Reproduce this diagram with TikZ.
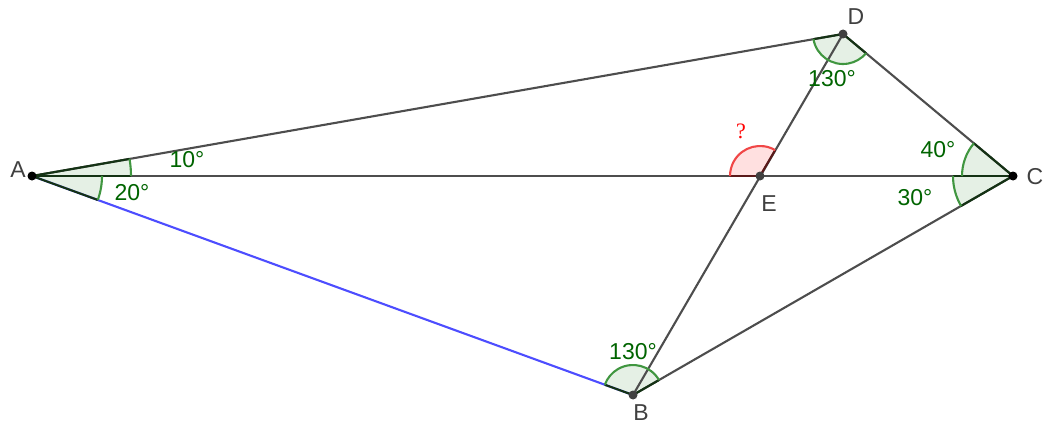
\documentclass[tikz,border=0pt]{standalone}
\usepackage{fontspec}
\setmainfont{Liberation Sans}
\newfontfamily\serifq{Liberation Serif}
\definecolor{seg}{RGB}{77,77,77}
\definecolor{bluel}{RGB}{77,77,255}
\definecolor{angtext}{RGB}{0,100,0}
\definecolor{angarcc}{RGB}{64,150,64}
\definecolor{angfillc}{RGB}{229,240,229}
\definecolor{angrad}{RGB}{20,50,20}
\definecolor{redarc}{RGB}{240,70,70}
\definecolor{redfill}{RGB}{255,224,224}
\definecolor{redrad}{RGB}{90,25,25}
\begin{document}
\begin{tikzpicture}[x=1pt,y=1pt,
  segline/.style={draw=seg,line width=2.1pt},
  blueline/.style={draw=bluel,line width=2.1pt},
  angfill/.style={fill=angfillc},
  angarc/.style={draw=angarcc,line width=2.1pt},
  angradial/.style={draw=angrad,line width=2.1pt},
  redfillst/.style={fill=redfill},
  redarcst/.style={draw=redarc,line width=2.1pt},
  redradial/.style={draw=redrad,line width=2.1pt},
  pt/.style={circle,fill=black!75,inner sep=0pt,minimum size=9pt},
  ptb/.style={circle,fill=black,inner sep=0pt,minimum size=9pt},
  ptlabel/.style={font=\fontsize{23}{25}\selectfont,text=black!75},
  anglabel/.style={font=\fontsize{23}{25}\selectfont,text=angtext}]
\useasboundingbox (0,0) rectangle (1048,429);
\coordinate (A) at (32,253);
\coordinate (C) at (1013,253);
\coordinate (D) at (843,395);
\coordinate (B) at (633,34);
\coordinate (E) at (760,253);
% sector fills
\fill[angfill] (A) -- ++(0:99) arc[start angle=0,end angle=9.93,radius=99] -- cycle;
\fill[angfill] (A) -- ++(-20:70) arc[start angle=-20,end angle=0,radius=70] -- cycle;
\fill[angfill] (C) -- ++(140.13:51) arc[start angle=140.13,end angle=180,radius=51] -- cycle;
\fill[angfill] (C) -- ++(180:60) arc[start angle=180,end angle=209.96,radius=60] -- cycle;
\fill[angfill] (D) -- ++(189.93:30) arc[start angle=189.93,end angle=320.13,radius=30] -- cycle;
\fill[angfill] (B) -- ++(29.96:30) arc[start angle=29.96,end angle=160,radius=30] -- cycle;
\fill[redfillst] (E) -- ++(59.7:30) arc[start angle=59.7,end angle=180,radius=30] -- cycle;
% segments
\draw[segline] (A) -- (D);
\draw[segline] (D) -- (C);
\draw[segline] (C) -- (B);
\draw[segline] (A) -- (C);
\draw[segline] (B) -- (D);
\draw[blueline] (A) -- (B);
% radial edges of sectors
\draw[angradial] (A) -- ++(9.93:99);
\draw[angradial] (A) -- ++(0:99);
\draw[angradial] (A) -- ++(-20:70);
\draw[angradial] (C) -- ++(140.13:51);
\draw[angradial] (C) -- ++(180:60);
\draw[angradial] (C) -- ++(209.96:60);
\draw[angradial] (D) -- ++(189.93:30);
\draw[angradial] (D) -- ++(320.13:30);
\draw[angradial] (B) -- ++(29.96:30);
\draw[angradial] (B) -- ++(160:30);
\draw[redradial] (E) -- ++(59.7:30);
\draw[redradial] (E) -- ++(180:30);
% arcs
\draw[angarc] (A) ++(0:99) arc[start angle=0,end angle=9.93,radius=99];
\draw[angarc] (A) ++(-20:70) arc[start angle=-20,end angle=0,radius=70];
\draw[angarc] (C) ++(140.13:51) arc[start angle=140.13,end angle=180,radius=51];
\draw[angarc] (C) ++(180:60) arc[start angle=180,end angle=209.96,radius=60];
\draw[angarc] (D) ++(189.93:30) arc[start angle=189.93,end angle=320.13,radius=30];
\draw[angarc] (B) ++(29.96:30) arc[start angle=29.96,end angle=160,radius=30];
\draw[redarcst] (E) ++(59.7:30) arc[start angle=59.7,end angle=180,radius=30];
% points
\node[ptb] (pA) at (A) {};
\node[ptb] (pC) at (C) {};
\node[pt] (pD) at (D) {};
\node[pt] (pB) at (B) {};
\node[pt] (pE) at (E) {};
% point labels
\node[ptlabel] (lA) at (18,259) {A};
\node[ptlabel] (lD) at (856,412) {D};
\node[ptlabel] (lC) at (1035,252) {C};
\node[ptlabel] (lE) at (769,225) {E};
\node[ptlabel] (lB) at (641,16) {B};
% angle labels
\node[anglabel] (a10) at (187,269) {10°};
\node[anglabel] (a20) at (132,236) {20°};
\node[anglabel] (a130d) at (832,350) {130°};
\node[anglabel] (a40) at (938,279) {40°};
\node[anglabel] (a30) at (915,231) {30°};
\node[anglabel] (a130b) at (633,77) {130°};
\node[font=\fontsize{22}{24}\selectfont\serifq,text=red] (q) at (741,298) {?};
\end{tikzpicture}
\end{document}
